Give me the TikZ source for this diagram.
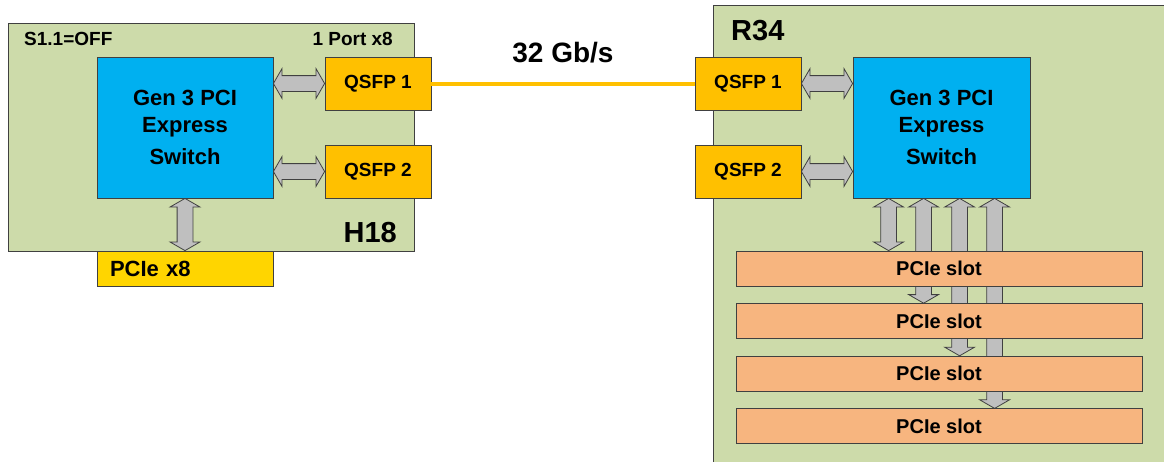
\documentclass[tikz,border=0pt]{standalone}
\usepackage{fontspec}
\setmainfont{Liberation Sans}
\usepackage{tikz}
\usetikzlibrary{shapes, shapes.arrows, backgrounds, positioning, calc}
\definecolor{boardgreen}{RGB}{205,219,170}
\definecolor{chipblue}{RGB}{0,176,240}
\definecolor{portorange}{RGB}{255,192,0}
\definecolor{slotorange}{RGB}{247,181,127}
\definecolor{busyellow}{RGB}{255,213,0}
\definecolor{edge}{RGB}{64,64,64}
\pgfdeclarelayer{board}
\pgfdeclarelayer{wire}
\pgfsetlayers{board,wire,main}
\tikzstyle{carte} = [rectangle, draw = edge, fill = boardgreen, line width = 1]
\tikzstyle{puce} = [rectangle, minimum width = 176, minimum height = 141, text centered, align = center, draw = edge, line width = 0.8, fill = chipblue, font = \fontsize{22}{27}\selectfont\bfseries]
\tikzstyle{port} = [rectangle, minimum width = 106, minimum height = 53, text centered, draw = edge, line width = 0.8, fill = portorange, font = \fontsize{19}{22}\selectfont\bfseries]
\tikzstyle{slot} = [rectangle, minimum width = 406, minimum height = 35, text centered, draw = edge, line width = 0.8, fill = slotorange, font = \fontsize{20}{24}\selectfont\bfseries]
\tikzstyle{etiquette} = [inner sep = 0, font = \fontsize{19}{22}\selectfont\bfseries]
\tikzstyle{titre} = [inner sep = 0, font = \fontsize{29}{33}\selectfont\bfseries]
\tikzstyle{gros} = [double arrow, draw = edge, line width = 0.8, fill = gray!50, inner sep = 7.5, double arrow head extend = 7, double arrow tip angle = 120, double arrow head indent = 0]
\newcommand{\fleche}[2]{\path let \p1 = ($(#2)-(#1)$), \n1 = {veclen(\x1,\y1)}, \n2 = {atan2(\y1,\x1)} in ($(#1)!0.5!(#2)$) node [gros, minimum height = \n1, rotate = \n2] {};}

\begin{document}
\begin{tikzpicture}[x = 1pt, y = -1pt]
\useasboundingbox (0,0) rectangle (1164,461);
\begin{pgfonlayer}{board}
\node (h18) [carte, minimum width = 406, minimum height = 228] at (211,137) {};
\node (r34) [carte, minimum width = 487, minimum height = 495] at (956.5,252.5) {};
\end{pgfonlayer}
% H18
\node (swL) [puce] at (185,127.5) {Gen 3 PCI\\Express\\[5pt]Switch};
\node (q1L) [port] at (378,83.5) {QSFP 1};
\node (q2L) [port] at (378,171.5) {QSFP 2};
\node (x8) [rectangle, minimum width = 176, minimum height = 35, text width = 150, inner xsep = 13, align = left, draw = edge, line width = 0.8, fill = busyellow, font = \fontsize{22}{26}\selectfont\bfseries] at (185,268.5) {PCIe x8};
\node (s11) [etiquette, right] at (24,39) {S1.1=OFF};
\node (nport) [etiquette, left] at (393,39) {1 Port x8};
\node (h18t) [titre, left] at (397,233) {H18};
% R34
\node (q1R) [port] at (748,83.5) {QSFP 1};
\node (q2R) [port] at (748,171.5) {QSFP 2};
\node (swR) [puce, minimum width = 177] at (941.5,127.5) {Gen 3 PCI\\Express\\[5pt]Switch};
\node (r34t) [titre, right] at (731,31) {R34};
\foreach \i in {1,...,4}
  \node (s\i) [slot] at (939, {268.5 + 52.6*(\i-1)}) {PCIe slot};
% link
\draw [portorange, line width = 4] (q1L) -- (q1R);
\node (rate) [font = \fontsize{28}{32}\selectfont\bfseries] at (563,53) {32 Gb/s};
\begin{pgfonlayer}{wire}
\coordinate (a1) at (q1L.west -| swL.east);
\coordinate (a2) at (q2L.west -| swL.east);
\coordinate (b1) at (q1R.east -| swR.west);
\coordinate (b2) at (q2R.east -| swR.west);
\fleche{a1}{q1L.west}
\fleche{a2}{q2L.west}
\fleche{swL.south}{x8.north}
\fleche{q1R.east}{b1}
\fleche{q2R.east}{b2}
\foreach \i/\d in {1/36, 2/71, 3/107, 4/142} {
  \coordinate (t\i) at ($(swR.south west)+(\d,0)$);
  \fleche{t\i}{t\i |- s\i.north}
}
\end{pgfonlayer}
\end{tikzpicture}
\end{document}
